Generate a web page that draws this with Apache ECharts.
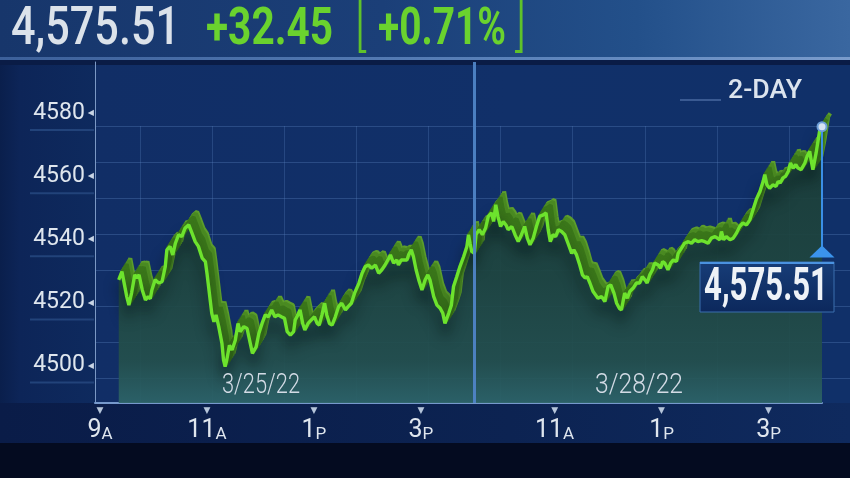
<!DOCTYPE html>
<html><head><meta charset="utf-8">
<script src="https://cdn.jsdelivr.net/npm/echarts@6/dist/echarts.min.js"></script>
<style>
html,body{margin:0;padding:0;background:#050c22;}
#wrap{position:relative;width:850px;height:478px;overflow:hidden;}
.bg{position:absolute;}
#c{position:absolute;left:0;top:0;width:850px;height:478px;}
</style>
</head><body>
<div id="wrap">
  <div class="bg" style="left:0;top:0;width:850px;height:58px;background:linear-gradient(90deg,#17366b 0%,#1b3f78 45%,#23508a 75%,#3a67a0 100%);"></div>
  <div class="bg" style="left:0;top:57px;width:850px;height:3px;background:linear-gradient(90deg,#3c609a,#5a82ba 60%,#7a9ccc);"></div>
  <div class="bg" style="left:0;top:60px;width:850px;height:5px;background:#0a1c46;"></div>
  <div class="bg" style="left:0;top:65px;width:850px;height:378px;background:linear-gradient(90deg,#0a1f4c 0px,#0d2558 20px,#0e2a5e 95px,#112e66 96px,#113069 60%,#103069 100%);"></div>
  <div class="bg" style="left:0;top:403px;width:850px;height:40px;background:linear-gradient(90deg,#0a1c48,#0c2352 60%,#0f2a5e);"></div>
  <div class="bg" style="left:0;top:443px;width:850px;height:35px;background:#040b20;"></div>
  <div id="c"></div>
</div>
<script>
// ---- data ----
// x position: hours on the compressed 2-day axis (0 = 9:00 on 3/25, 7 = close 3/25 = open 3/28)
const day1Hours = [0.35,0.41,0.50,0.54,0.59,0.65,0.69,0.73,0.79,0.85,
  0.90,0.94,0.97,1.03,1.10,1.16,1.22,1.25,1.31,1.36,
  1.41,1.47,1.53,1.59,1.66,1.72,1.78,1.84,1.91,1.97,
  2.00,2.03,2.06,2.09,2.13,2.17,2.22,2.28,2.31,2.34,
  2.37,2.42,2.47,2.53,2.58,2.62,2.69,2.75,2.81,2.85,
  2.92,2.97,3.03,3.09,3.15,3.21,3.27,3.33,3.39,3.45,
  3.50,3.56,3.62,3.65,3.70,3.74,3.79,3.83,3.89,3.95,
  4.01,4.06,4.10,4.15,4.20,4.24,4.29,4.34,4.40,4.46,
  4.52,4.59,4.64,4.70,4.76,4.84,4.90,4.96,5.02,5.08,
  5.15,5.21,5.27,5.33,5.40,5.43,5.49,5.55,5.58,5.63,
  5.70,5.74,5.77,5.82,5.86,5.91,5.96,6.02,6.08,6.13,
  6.17,6.24,6.30,6.36,6.41,6.45,6.52,6.57,6.61,6.67,
  6.73,6.80,6.86,6.89,6.92,6.95];
const day1Values = [4527,4529.6,4521.7,4519,4522.8,4528.6,4527.6,4528.6,4523.8,4520.6,
  4521.7,4521,4523.8,4527,4526,4526.4,4531.2,4536.5,4537.6,4534.9,
  4538.6,4541.3,4540.7,4543.4,4544.4,4541.8,4539.1,4537.6,4533.9,4532.8,
  4529.1,4524.9,4520.6,4516.4,4513.7,4515.9,4512.2,4506.9,4501.6,4499.5,
  4501.6,4506.3,4504.8,4507.9,4513.2,4510.6,4512.2,4511.6,4506.9,4503.7,
  4505.8,4510,4513.2,4515.9,4515.3,4517.5,4515.3,4515.9,4515.3,4514.8,
  4510.6,4509.5,4510.6,4514.3,4515.9,4517.5,4513.2,4511.1,4513.2,4514.3,
  4515.3,4513.2,4512.7,4515.9,4519.6,4515.9,4513.2,4512.7,4515.3,4518.5,
  4519.6,4517.5,4518.5,4519.6,4522.8,4525.9,4529.1,4531.2,4531.7,4530.7,
  4531.7,4529.1,4530.2,4531.7,4533.9,4534.9,4532.3,4533.3,4531.7,4533.3,
  4533.3,4533.3,4534.9,4536.5,4534.4,4530.2,4527,4523.8,4527,4528.6,
  4527,4521.7,4519,4518,4516.4,4513.2,4516.4,4519,4524.9,4528,
  4531.2,4534.4,4537.6,4541.3,4538.6,4536];
const day2Hours = [7.00,7.03,7.09,7.15,7.21,7.26,7.32,7.36,7.40,7.44,
  7.49,7.54,7.59,7.63,7.70,7.76,7.82,7.88,7.94,7.99,
  8.04,8.10,8.16,8.22,8.29,8.34,8.38,8.42,8.47,8.52,
  8.57,8.63,8.69,8.75,8.82,8.86,8.91,8.97,9.02,9.07,
  9.11,9.16,9.22,9.25,9.31,9.38,9.44,9.50,9.55,9.61,
  9.66,9.71,9.75,9.81,9.86,9.91,9.97,10.03,10.09,10.14,
  10.19,10.23,10.28,10.33,10.37,10.44,10.48,10.52,10.56,10.62,
  10.67,10.72,10.78,10.81,10.87,10.93,11.00,11.06,11.12,11.18,
  11.25,11.31,11.37,11.43,11.50,11.59,11.62,11.66,11.71,11.78,
  11.84,11.90,11.96,12.02,12.09,12.15,12.21,12.27,12.34,12.40,
  12.43,12.47,12.52,12.58,12.64,12.68,12.72,12.77,12.82,12.87,
  12.91,12.96,13.01,13.05,13.11,13.18,13.22,13.27,13.30,13.33,
  13.36,13.39,13.42,13.46,13.50];
const day2Values = [4535.4,4541.3,4542.9,4541.3,4543.4,4547.1,4548.2,4545.5,4550.8,4547.1,
  4543.9,4545.5,4544.4,4542.9,4543.9,4541.3,4539.1,4541.3,4543.9,4540.2,
  4538.1,4540.2,4543.9,4547.1,4547.6,4548.2,4542.9,4539.1,4541.3,4540.7,
  4542.9,4542.3,4541.3,4538.6,4535.4,4536.5,4534.9,4531.7,4528.6,4527.6,
  4528,4526,4523.3,4522.8,4521.2,4521.7,4520.1,4524.9,4525.4,4522.8,
  4519.6,4518,4517.5,4522.8,4521.2,4523.4,4524.4,4526,4526,4528,
  4527,4526,4528.6,4530.2,4532.3,4531.7,4530.7,4532.8,4532.3,4530.2,
  4532.3,4533.3,4532.8,4535.4,4537,4538.6,4539.1,4538.6,4539.7,4539.1,
  4539.4,4539.1,4538.6,4540.2,4540.7,4539.7,4542.3,4539.7,4540.7,4539.7,
  4540.2,4541.8,4543.9,4545,4544.4,4546,4549.2,4552.4,4555,4558.2,
  4560.3,4557.1,4556,4557.1,4556.6,4558.2,4557.7,4559.3,4559.8,4561.4,
  4564,4562.4,4563.5,4562.4,4561.9,4564,4566.1,4567.7,4564.6,4561.9,
  4561.4,4567.2,4570.4,4574.6,4575.51];
const xTickValues = [0, 2, 4, 6, 8.5, 10.5, 12.5];
const xTickLabels = ['9A','11A','1P','3P','11A','1P','3P'];
const yTickValues = [4500, 4520, 4540, 4560, 4580];
const dayLabels = ['3/25/22', '3/28/22'];
const dayBreak = 7;
const lastValue = 4575.51;
const netChange = '+32.45';
const pctChange = '+0.71%';
const rangeLabel = '2-DAY';

// ---- helpers ----
const FONT = 'Roboto, "DejaVu Sans", sans-serif';
const measureCtx = document.createElement('canvas').getContext('2d');
function fitScale(text, font, targetWidth) {
  measureCtx.font = font;
  const w = measureCtx.measureText(text).width;
  return w > 0 ? targetWidth / w : 1;
}
const fmt = (v) => v.toLocaleString('en-US', {minimumFractionDigits: 2, maximumFractionDigits: 2});

// ---- chart ----
const series = day1Hours.map((h, i) => [h, day1Values[i]])
  .concat(day2Hours.map((h, i) => [h, day2Values[i]]));
const last = series[series.length - 1];
const X_MIN = -0.0935, X_MAX = 13.5, Y_MIN = 4488, Y_MAX = 4596;

const grids = [{left: 95, right: 28, top: 62, bottom: 75}];
const xAxes = [{
  gridIndex: 0, type: 'value', min: X_MIN, max: X_MAX,
  axisLine: {show: true, onZero: false, lineStyle: {color: '#7699cc', width: 2}},
  axisTick: {show: false}, splitLine: {show: false},
  axisLabel: {
    customValues: xTickValues, margin: 1,
    formatter: (v) => {
      const i = xTickValues.findIndex(t => Math.abs(t - v) < 1e-6);
      if (i < 0) return '';
      const s = xTickLabels[i];
      return '{tri|▼}\n{n|' + s.slice(0, -1) + '}{s|' + s.slice(-1) + '}';
    },
    rich: {
      tri: {fontFamily: 'DejaVu Sans', fontSize: 9, color: '#b5c5da', lineHeight: 13, align: 'center'},
      n: {fontFamily: FONT, fontSize: 25, color: '#dfe6ee', lineHeight: 26, verticalAlign: 'bottom'},
      s: {fontFamily: FONT, fontSize: 17, color: '#dfe6ee', lineHeight: 26, verticalAlign: 'bottom'}
    }
  }
}];
const yAxes = [{
  gridIndex: 0, type: 'value', min: Y_MIN, max: Y_MAX,
  axisLine: {show: true, onZero: false, lineStyle: {color: '#7b98c4', width: 1}},
  axisTick: {show: false}, splitLine: {show: false},
  axisLabel: {
    customValues: yTickValues, margin: 1, padding: [9, 0, 0, 0],
    formatter: (v) => '{v|' + v + '}{t|◀}\n{u|}',
    rich: {
      v: {fontFamily: FONT, fontSize: 23, color: '#dfe6ee', lineHeight: 26, padding: [0, 3, 0, 0]},
      t: {fontFamily: 'DejaVu Sans', fontSize: 8, color: '#c9d5e5', lineHeight: 26},
      u: {width: 64, height: 2, lineHeight: 8, backgroundColor: '#22437a'}
    }
  }
}];
const allSeries = [];

// area fill under the line
allSeries.push({
  type: 'line', xAxisIndex: 0, yAxisIndex: 0, data: series, showSymbol: false, silent: true,
  z: 1, lineStyle: {width: 0, opacity: 0},
  areaStyle: {
    opacity: 0.93,
    color: new echarts.graphic.LinearGradient(0, 0, 0, 1, [
      {offset: 0, color: '#1b3d37'}, {offset: 0.55, color: '#1f4640'},
      {offset: 0.85, color: '#24504d'}, {offset: 1, color: '#2d6468'}])
  }
});

// 3D ribbon behind the line: the same line drawn in shifted copies of the plot
const ribbonSteps = 7;
for (let k = ribbonSteps; k >= 1; k--) {
  const dx = 1.2 * k, dy = 1.9 * k;
  const gi = grids.length;
  grids.push({left: 95 + dx, right: 28 - dx, top: 62 - dy, bottom: 75 + dy});
  xAxes.push({gridIndex: gi, type: 'value', min: X_MIN, max: X_MAX, show: false});
  yAxes.push({gridIndex: gi, type: 'value', min: Y_MIN, max: Y_MAX, show: false});
  allSeries.push({
    type: 'line', xAxisIndex: gi, yAxisIndex: gi, data: series, showSymbol: false, silent: true,
    z: 2,
    lineStyle: {color: k === ribbonSteps ? '#5c9d2c' : (k > 4 ? '#4a8a22' : '#3a761a'), width: 4}
  });
}

// decorative background grid (horizontal + vertical lines)
{
  const gi = grids.length;
  grids.push({left: 95, right: 0, top: 126, bottom: 64});
  xAxes.push({gridIndex: gi, type: 'value', min: 0, max: 1, show: false});
  yAxes.push({gridIndex: gi, type: 'value', min: -11, max: 277, interval: 36,
    axisLine: {show: false}, axisTick: {show: false}, axisLabel: {show: false},
    splitLine: {show: true, showMinLine: false, lineStyle: {color: 'rgba(90,130,190,0.35)', width: 1}}});
  const gj = grids.length;
  grids.push({left: 68, right: 0, top: 126, bottom: 75});
  yAxes.push({gridIndex: gj, type: 'value', min: 0, max: 1, show: false});
  xAxes.push({gridIndex: gj, type: 'value', min: 0, max: 782, interval: 72.1,
    axisLine: {show: false}, axisTick: {show: false}, axisLabel: {show: false},
    splitLine: {show: true, showMinLine: false, showMaxLine: false, lineStyle: {color: 'rgba(90,130,190,0.3)', width: 1}}});
}

// main line
allSeries.push({
  type: 'line', xAxisIndex: 0, yAxisIndex: 0, data: series, showSymbol: false, silent: true,
  z: 4,
  lineStyle: {color: '#6de32d', width: 3.4, shadowColor: 'rgba(3,16,14,0.7)', shadowBlur: 14, shadowOffsetY: 12},
  markLine: {
    silent: true, symbol: ['none', 'none'], label: {show: false},
    data: [
      {xAxis: dayBreak, lineStyle: {color: '#4f84c6', width: 3, type: 'solid', opacity: 0.95}},
      [{coord: [last[0], last[1]], lineStyle: {color: '#3b8fe6', width: 2, type: 'solid'}},
       {coord: [last[0], 4537]}]
    ]
  },
  markPoint: {
    silent: true, label: {show: false},
    data: [
      {coord: [last[0], 4536], symbol: 'triangle', symbolSize: [25, 12], itemStyle: {color: '#3b93ec'}},
      {coord: last, symbol: 'circle', symbolSize: 9, itemStyle: {color: '#d5e3f2', borderColor: '#6d9fd8', borderWidth: 2}}
    ]
  }
});

const hdrMain = fmt(lastValue);
const F1 = '500 53px ' + FONT, F2 = 'bold 52px ' + FONT, FB = '300 58px ' + FONT, FBOX = 'bold 46px ' + FONT;
const option = {
  animation: false,
  backgroundColor: 'transparent',
  grid: grids, xAxis: xAxes, yAxis: yAxes, series: allSeries,
  graphic: {elements: [
    {type: 'text', x: 11, y: 31, z: 100, scaleX: fitScale(hdrMain, F1, 169), style: {text: hdrMain, font: F1, fill: '#dbe2ea', verticalAlign: 'middle'}},
    {type: 'text', x: 206, y: 31, z: 100, scaleX: fitScale(netChange, F2, 127), style: {text: netChange, font: F2, fill: '#6ad22e', verticalAlign: 'middle'}},
    {type: 'text', x: 355, y: 29, z: 100, scaleX: 0.8, style: {text: '[', font: FB, fill: '#5fc22a', verticalAlign: 'middle'}},
    {type: 'text', x: 378, y: 31, z: 100, scaleX: fitScale(pctChange, F2, 128), style: {text: pctChange, font: F2, fill: '#6ad22e', verticalAlign: 'middle'}},
    {type: 'text', x: 515, y: 29, z: 100, scaleX: 0.8, style: {text: ']', font: FB, fill: '#5fc22a', verticalAlign: 'middle'}},
    {type: 'rect', x: 680, y: 99, z: 100, shape: {width: 41, height: 2}, style: {fill: '#3a5a92'}},
    {type: 'text', x: 728, y: 92, z: 100, scaleX: fitScale(rangeLabel, '500 25px ' + FONT, 74), style: {text: rangeLabel, font: '500 25px ' + FONT, fill: '#dce4ee', verticalAlign: 'middle'}},
    {type: 'text', x: 222, y: 386, z: 100, scaleX: fitScale(dayLabels[0], '300 27px ' + FONT, 78), style: {text: dayLabels[0], font: '300 27px ' + FONT, fill: '#d3dbe5', verticalAlign: 'middle'}},
    {type: 'text', x: 595, y: 386, z: 100, scaleX: fitScale(dayLabels[1], '300 27px ' + FONT, 88), style: {text: dayLabels[1], font: '300 27px ' + FONT, fill: '#d3dbe5', verticalAlign: 'middle'}},
    {type: 'rect', x: 700, y: 262, z: 100, shape: {width: 134, height: 50}, style: {
      fill: new echarts.graphic.LinearGradient(0, 0, 0, 1, [{offset: 0, color: '#173d78'}, {offset: 1, color: '#0c285c'}]),
      stroke: '#3b6fae', lineWidth: 1}},
    {type: 'rect', x: 700, y: 262, z: 101, shape: {width: 134, height: 2}, style: {fill: '#4a92e0'}},
    {type: 'text', x: 704, y: 288, z: 102, scaleX: fitScale(hdrMain, FBOX, 124), style: {text: hdrMain, font: FBOX, fill: '#eef2f7', verticalAlign: 'middle'}}
  ]}
};
const chart = echarts.init(document.getElementById('c'));
chart.setOption(option);
</script>
</body></html>
